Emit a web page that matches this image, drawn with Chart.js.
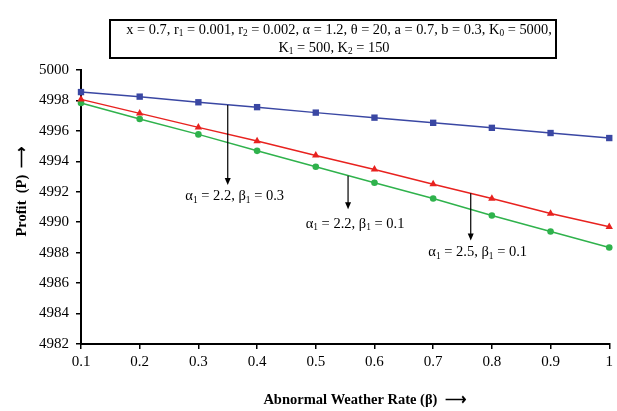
<!DOCTYPE html>
<html>
<head>
<meta charset="utf-8">
<script src="https://cdn.jsdelivr.net/npm/chart.js@4"></script>
<style>
  html, body { margin: 0; padding: 0; background: #fff; }
  #wrap { width: 617px; height: 411px; }
</style>
</head>
<body>
<div id="wrap"><canvas id="myChart" width="617" height="411"></canvas></div>
<script>
// datos
const beta = [0.1, 0.2, 0.3, 0.4, 0.5, 0.6, 0.7, 0.8, 0.9, 1];
const perfilA = [4998.55, 4998.25, 4997.88, 4997.56, 4997.2, 4996.87, 4996.53, 4996.2, 4995.86, 4995.53]; // azul
const perfilB = [4998.07, 4997.15, 4996.23, 4995.33, 4994.39, 4993.47, 4992.5, 4991.56, 4990.57, 4989.7]; // rojo
const perfilC = [4997.83, 4996.78, 4995.77, 4994.69, 4993.64, 4992.59, 4991.56, 4990.44, 4989.39, 4988.34]; // verde
const xTicks = ['0.1', '0.2', '0.3', '0.4', '0.5', '0.6', '0.7', '0.8', '0.9', '1'];
const yTicks = [4982, 4984, 4986, 4988, 4990, 4992, 4994, 4996, 4998, 5000];

// flechas: x, y inicio, y fin, y etiqueta, valores de la etiqueta
const flechaX = [0.35, 0.555, 0.764];
const flechaDesde = [4997.7, 4993.05, 4991.9];
const flechaHasta = [4992.45, 4990.85, 4988.8];
const etiquetaY = [4991.7, 4989.9, 4988.0];
const etiquetaAlfa = ['2.2', '2.2', '2.5'];
const etiquetaBeta = ['0.3', '0.1', '0.1'];

const serif = '"Liberation Serif", "Times New Roman", serif';

const puntos = (vals) => beta.map((b, i) => ({ x: b, y: vals[i] }));

// texto con subíndices: segmentos [texto, subindice]
const anchoRico = (ctx, segs, size) => {
    let w = 0;
    segs.forEach(([t, s]) => {
        ctx.font = `${size}px ${serif}`;
        w += ctx.measureText(t).width;
        if (s) { ctx.font = `${size * 0.65}px ${serif}`; w += ctx.measureText(s).width; }
    });
    return w;
};
const textoRico = (ctx, segs, cx, cy, size) => {
    let x = cx - anchoRico(ctx, segs, size) / 2;
    ctx.textBaseline = 'middle';
    ctx.textAlign = 'left';
    ctx.fillStyle = '#000';
    segs.forEach(([t, s]) => {
        ctx.font = `${size}px ${serif}`;
        ctx.fillText(t, x, cy);
        x += ctx.measureText(t).width;
        if (s) {
            ctx.font = `${size * 0.65}px ${serif}`;
            ctx.fillText(s, x, cy + size * 0.28);
            x += ctx.measureText(s).width;
        }
    });
};

const extras = {
    id: 'extras',
    afterDraw(chart) {
        const ctx = chart.ctx;
        const sx = chart.scales.x, sy = chart.scales.y;
        ctx.save();

        // caja de parámetros
        ctx.strokeStyle = '#000';
        ctx.lineWidth = 2;
        ctx.strokeRect(110, 20, 446, 38);
        textoRico(ctx, [['x = 0.7, r', '1'], [' = 0.001, r', '2'], [' = 0.002, α = 1.2, θ = 20, a = 0.7, b = 0.3, K', '0'], [' = 5000,', '']], 339, 30, 14.4);
        textoRico(ctx, [['K', '1'], [' = 500, K', '2'], [' = 150', '']], 334, 48, 14.4);

        // flechas y etiquetas
        ctx.lineWidth = 1.2;
        flechaX.forEach((fx, i) => {
            const px = sx.getPixelForValue(fx);
            const y0 = sy.getPixelForValue(flechaDesde[i]);
            const y1 = sy.getPixelForValue(flechaHasta[i]);
            ctx.strokeStyle = '#000';
            ctx.fillStyle = '#000';
            ctx.beginPath();
            ctx.moveTo(px, y0);
            ctx.lineTo(px, y1 - 6);
            ctx.stroke();
            ctx.beginPath();
            ctx.moveTo(px - 3, y1 - 7);
            ctx.lineTo(px + 3, y1 - 7);
            ctx.lineTo(px, y1);
            ctx.closePath();
            ctx.fill();
            textoRico(ctx, [['α', '1'], [` = ${etiquetaAlfa[i]}, β`, '1'], [` = ${etiquetaBeta[i]}`, '']],
                px + 7, sy.getPixelForValue(etiquetaY[i]), 14.5);
        });

        // títulos de ejes
        ctx.fillStyle = '#000';
        ctx.font = `bold 14.5px ${serif}`;
        ctx.textAlign = 'center';
        ctx.textBaseline = 'middle';
        ctx.fillText('Abnormal Weather Rate (β)  ⟶', 365, 400);
        ctx.translate(22, 191);
        ctx.rotate(-Math.PI / 2);
        ctx.fillText('Profit  (P)  ⟶', 0, 0);
        ctx.restore();
    }
};

const serie = (vals, color, estilo, radio) => ({
    data: puntos(vals),
    borderColor: color,
    backgroundColor: color,
    borderWidth: 1.5,
    pointStyle: estilo,
    pointRadius: radio,
    pointHoverRadius: radio,
    pointBorderWidth: 0,
    tension: 0,
    clip: false
});

const config = {
    type: 'line',
    data: {
        datasets: [
            serie(perfilA, '#3a47a3', 'rect', 4.5),
            serie(perfilB, '#e8221f', 'triangle', 4.3),
            serie(perfilC, '#2fb24c', 'circle', 3.3)
        ]
    },
    options: {
        responsive: false,
        animation: false,
        layout: { padding: { top: 70, right: 5, left: 0, bottom: 0 } },
        plugins: { legend: { display: false }, tooltip: { enabled: false } },
        scales: {
            x: {
                type: 'linear',
                min: 0.1,
                max: 1,
                afterBuildTicks: (s) => { s.ticks = beta.map((v) => ({ value: v })); },
                afterFit: (s) => { s.height = 67; },
                ticks: {
                    color: '#000',
                    font: { family: serif, size: 15 },
                    padding: 4,
                    maxRotation: 0,
                    callback: (v) => xTicks[beta.indexOf(v)] ?? ''
                },
                grid: { drawOnChartArea: false, tickLength: 5, color: '#000', lineWidth: 1.5 },
                border: { color: '#000', width: 2 }
            },
            y: {
                min: 4982,
                max: 5000,
                afterBuildTicks: (s) => { s.ticks = yTicks.map((v) => ({ value: v })); },
                afterFit: (s) => { s.width = 81; },
                ticks: {
                    color: '#000',
                    font: { family: serif, size: 15 },
                    padding: 7,
                    callback: (v) => String(v)
                },
                grid: { drawOnChartArea: false, tickLength: 5, color: '#000', lineWidth: 1.5 },
                border: { color: '#000', width: 2 }
            }
        }
    },
    plugins: [extras]
};

const myChart = new Chart(document.getElementById('myChart'), config);
</script>
</body>
</html>
